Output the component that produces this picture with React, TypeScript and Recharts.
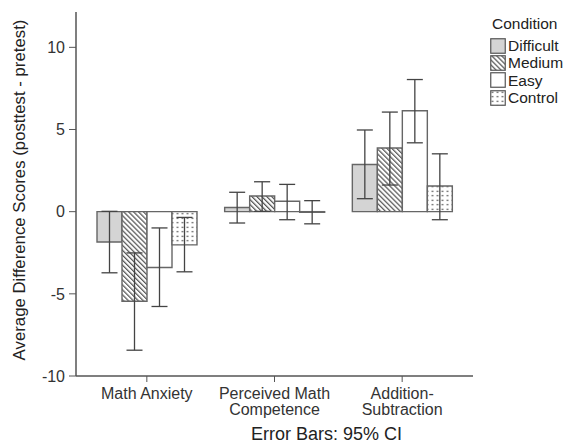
import React from "react";
import { BarChart, Bar, XAxis, YAxis, ErrorBar } from "recharts";

const categories = ["Math Anxiety", "Perceived Math\nCompetence", "Addition-\nSubtraction"];
const conditions = ["Difficult", "Medium", "Easy", "Control"];

const difficultMean = [-1.85, 0.25, 2.87];
const difficultLow = [-3.72, -0.69, 0.79];
const difficultHigh = [0.02, 1.18, 4.97];

const mediumMean = [-5.45, 0.95, 3.87];
const mediumLow = [-8.43, 0.02, 1.62];
const mediumHigh = [-2.51, 1.82, 6.06];

const easyMean = [-3.4, 0.63, 6.14];
const easyLow = [-5.77, -0.49, 4.19];
const easyHigh = [-0.99, 1.66, 8.04];

const controlMean = [-2.02, -0.04, 1.56];
const controlLow = [-3.66, -0.74, -0.49];
const controlHigh = [-0.35, 0.67, 3.52];

const yTicks = [-10, -5, 0, 5, 10];

const series = [
  { key: "difficult", mean: difficultMean, low: difficultLow, high: difficultHigh },
  { key: "medium", mean: mediumMean, low: mediumLow, high: mediumHigh },
  { key: "easy", mean: easyMean, low: easyLow, high: easyHigh },
  { key: "control", mean: controlMean, low: controlLow, high: controlHigh },
];

const data = categories.map((c, i) => {
  const row: any = { name: c };
  series.forEach((s) => {
    row[s.key] = s.mean[i];
    row[s.key + "Err"] = [s.mean[i] - s.low[i], s.high[i] - s.mean[i]];
  });
  return row;
});

const fills = ["#d4d4d4", "url(#hatch)", "#ffffff", "url(#dots)"];
const FONT = "'Liberation Sans', Arial, sans-serif";
const AXIS = "#555";
const TXT = "#333";

const CatTick = (props: any) => {
  const { x, y, payload } = props;
  const lines = String(payload.value).split("\n");
  return (
    <text x={x} y={y} textAnchor="middle" fill={TXT} fontSize={16} fontFamily={FONT}>
      {lines.map((l, i) => (
        <tspan key={i} x={x} dy={i === 0 ? 15 : 16}>
          {l}
        </tspan>
      ))}
    </text>
  );
};

const LegendBox = () => (
  <div style={{ position: "absolute", left: 490, top: 15, fontFamily: FONT, color: "#222" }}>
    <div style={{ fontSize: 15.5, marginLeft: 2, marginBottom: 4, lineHeight: "18px" }}>Condition</div>
    {conditions.map((c, i) => (
      <div key={c} style={{ display: "flex", alignItems: "center", height: 17.3 }}>
        <svg width={17} height={16} style={{ marginRight: 1 }}>
          <rect x={0.75} y={0.75} width={14.5} height={14.5} fill={fills[i]} stroke="#555" strokeWidth={1.2} />
        </svg>
        <span style={{ fontSize: 15.5, lineHeight: "17px" }}>{c}</span>
      </div>
    ))}
  </div>
);

export default function App() {
  return (
    <div style={{ position: "absolute", left: 0, top: 0, width: 567, height: 444 }}>
      <svg width={0} height={0} style={{ position: "absolute" }}>
        <defs>
          <pattern id="hatch" patternUnits="userSpaceOnUse" width={3.5} height={3.5} patternTransform="rotate(-45)">
            <rect width={3.5} height={3.5} fill="#fff" />
            <line x1={0.6} y1={0} x2={0.6} y2={3.5} stroke="#555" strokeWidth={1.3} />
          </pattern>
          <pattern id="dots" patternUnits="userSpaceOnUse" width={5} height={4.5}>
            <rect width={5} height={4.5} fill="#fff" />
            <rect x={1.5} y={1.7} width={2} height={1.1} fill="#555" />
          </pattern>
        </defs>
      </svg>
      <BarChart
        width={567}
        height={444}
        data={data}
        margin={{ top: 12, right: 94, bottom: 0, left: 0 }}
        barGap={0}
        barSize={25}
      >
        <XAxis
          dataKey="name"
          interval={0}
          tick={<CatTick />}
          tickLine={{ stroke: AXIS }}
          axisLine={{ stroke: AXIS, strokeWidth: 1.5 }}
          tickSize={6}
          height={68}
          padding={{ left: 7, right: 7 }}
          label={{ value: "Error Bars: 95% CI", position: "insideBottom", offset: 4, dx: 52, fontSize: 18, fill: "#222", fontFamily: FONT }}
        />
        <XAxis xAxisId="top" dataKey="name" orientation="top" tick={false} tickLine={false} height={0} axisLine={{ stroke: AXIS, strokeWidth: 1.5 }} />
        <YAxis
          domain={[-10, 12.15]}
          ticks={yTicks}
          allowDataOverflow
          width={76}
          tickSize={7}
          tickMargin={4}
          tick={{ fontSize: 16, fill: TXT, fontFamily: FONT }}
          tickLine={{ stroke: AXIS }}
          axisLine={{ stroke: AXIS, strokeWidth: 1.5 }}
          label={{ value: "Average Difference Scores (posttest - pretest)", angle: -90, position: "center", dx: -19, dy: -4, fontSize: 16.8, fill: "#222", fontFamily: FONT }}
        />
        <YAxis yAxisId="right" orientation="right" domain={[-10, 12.15]} tick={false} tickLine={false} width={0} axisLine={{ stroke: AXIS, strokeWidth: 1.5 }} />
        {series.map((s, i) => (
          <Bar key={s.key} dataKey={s.key} fill={fills[i]} stroke="#666" strokeWidth={1.4} isAnimationActive={false}>
            <ErrorBar dataKey={s.key + "Err"} width={8} stroke="#444" strokeWidth={1.3} direction="y" />
          </Bar>
        ))}
      </BarChart>
      <LegendBox />
    </div>
  );
}
